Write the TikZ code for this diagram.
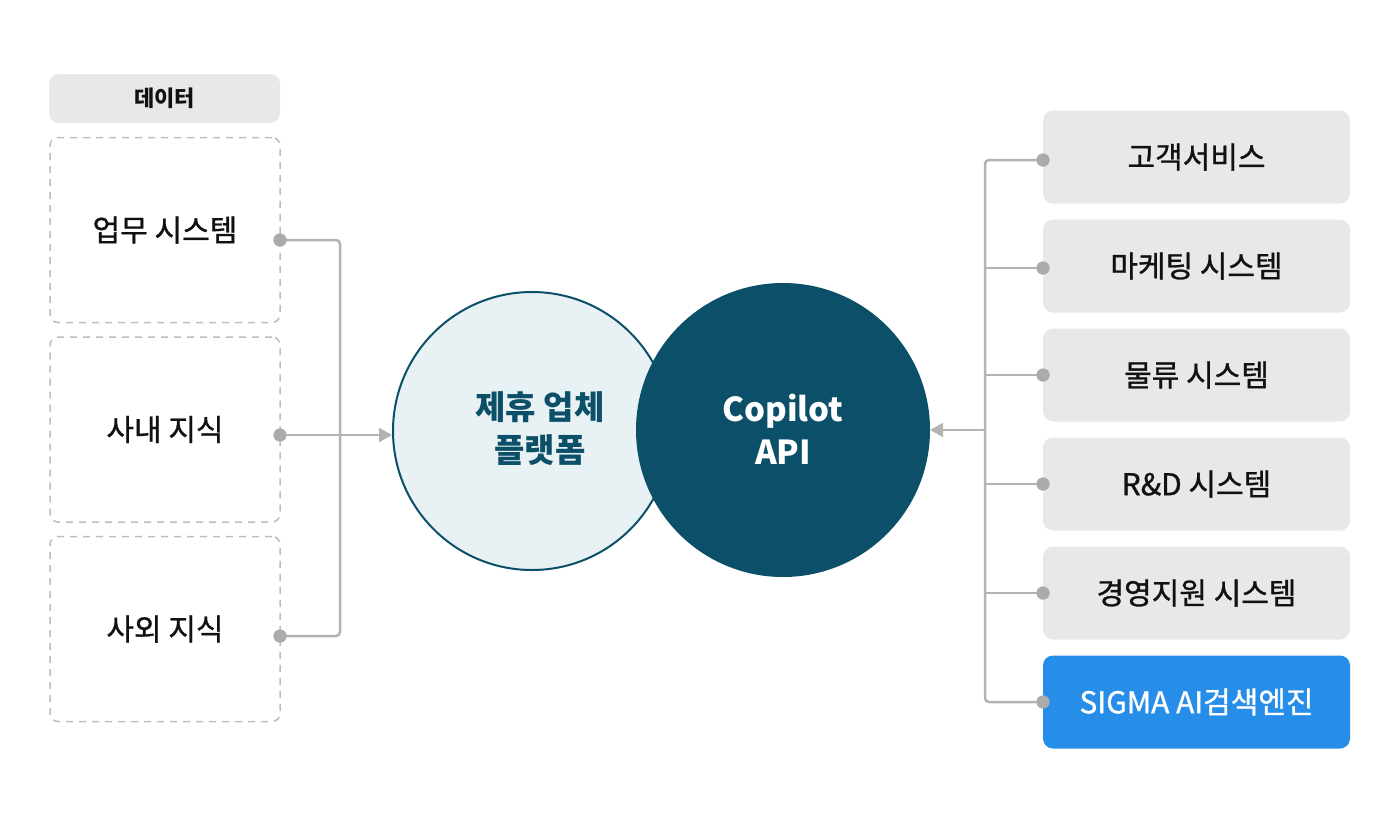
\documentclass[tikz,border=0pt]{standalone}
\usepackage{fontspec}
\setmainfont{Noto Sans CJK KR}
\newfontfamily\medfont{Noto Sans CJK KR}[FakeBold=1]
\usetikzlibrary{arrows.meta}
\definecolor{dteal}{HTML}{0B5068}
\definecolor{lteal}{HTML}{E8F1F4}
\definecolor{boxgray}{HTML}{E8E8E8}
\definecolor{linegray}{HTML}{B3B3B3}
\definecolor{dotgray}{HTML}{ABABAB}
\definecolor{dashgray}{HTML}{BDBDBD}
\definecolor{sigblue}{HTML}{268DE8}
\definecolor{txt}{HTML}{111111}
\begin{document}
\begin{tikzpicture}[x=1pt,y=-1pt,
  hdr/.style={fill=boxgray, rounded corners=10pt, minimum width=231pt, minimum height=49pt, inner sep=0pt, text=txt, font=\bfseries\fontsize{22}{26}\selectfont},
  dbox/.style={draw=dashgray, line width=1.5pt, dash pattern=on 7pt off 6pt, rounded corners=8pt, minimum width=230pt, minimum height=185pt, inner sep=0pt, text=txt, font=\medfont\fontsize{30}{36}\selectfont},
  rbox/.style={fill=boxgray, rounded corners=10pt, minimum width=307pt, minimum height=93pt, inner sep=0pt, text=txt, font=\medfont\fontsize{30}{36}\selectfont},
  dotn/.style={circle, fill=dotgray, minimum size=13pt, inner sep=0pt},
  conn/.style={draw=linegray, line width=2.5pt, rounded corners=4pt},
  arr/.style={conn, -{Triangle[length=13pt,width=14pt]}},
  circtext/.style={font=\bfseries\fontsize{33}{43}\selectfont, align=center}
]
\useasboundingbox (0,0) rectangle (1400,825);

% left side
\node[hdr] (hdr) at (164.5,98.5) {데이터};
\node[dbox] (b1) at (165,230) {업무 시스템};
\node[dbox] (b2) at (165,429.5) {사내 지식};
\node[dbox] (b3) at (165,629) {사외 지식};

% circles
\node[circle, fill=lteal, draw=dteal, line width=2pt, minimum size=278pt, inner sep=0pt] (pc) at (532,431) {};
\node[circle, fill=dteal, minimum size=294pt, inner sep=0pt] (cc) at (783,430) {};
\node[circtext, text=dteal] (pt) at (540,429) {제휴 업체\\플랫폼};
\node[circtext, text=white] (ct) at (783,429) {Copilot\\API};

% right side
\node[rbox] (r1) at (1196.5,157) {고객서비스};
\node[rbox] (r2) at (1196.5,266) {마케팅 시스템};
\node[rbox] (r3) at (1196.5,375) {물류 시스템};
\node[rbox] (r4) at (1196.5,484) {R\&D 시스템};
\node[rbox] (r5) at (1196.5,593) {경영지원 시스템};
\node[rbox, fill=sigblue, text=white] (r6) at (1196.5,702) {SIGMA AI검색엔진};

% dots
\node[dotn] (d1) at (280,240) {};
\node[dotn] (d2) at (280,435) {};
\node[dotn] (d3) at (280,636) {};
\node[dotn] (e1) at (1043,160) {};
\node[dotn] (e2) at (1043,268) {};
\node[dotn] (e3) at (1043,375) {};
\node[dotn] (e4) at (1043,484) {};
\node[dotn] (e5) at (1043,593) {};
\node[dotn] (e6) at (1043,702) {};

\coordinate (lj) at (340,240);
\coordinate (rj) at (985,160);
\coordinate (ra) at (985,430);

% connectors
\draw[conn] (d1.center) -- (lj) |- (d3.center);
\draw[arr] (d2.center) -- (pc.west |- d2);
\draw[conn] (e1.center) -- (rj) |- (e6.center);
\foreach \e in {e2,e3,e4,e5} \draw[conn] (rj |- \e) -- (\e.center);
\draw[arr] (ra) -- (cc.east |- ra);

% dots on top
\foreach \d in {d1,d2,d3,e1,e2,e3,e4,e5,e6} \fill[dotgray] (\d) circle (6.5pt);
\end{tikzpicture}
\end{document}
